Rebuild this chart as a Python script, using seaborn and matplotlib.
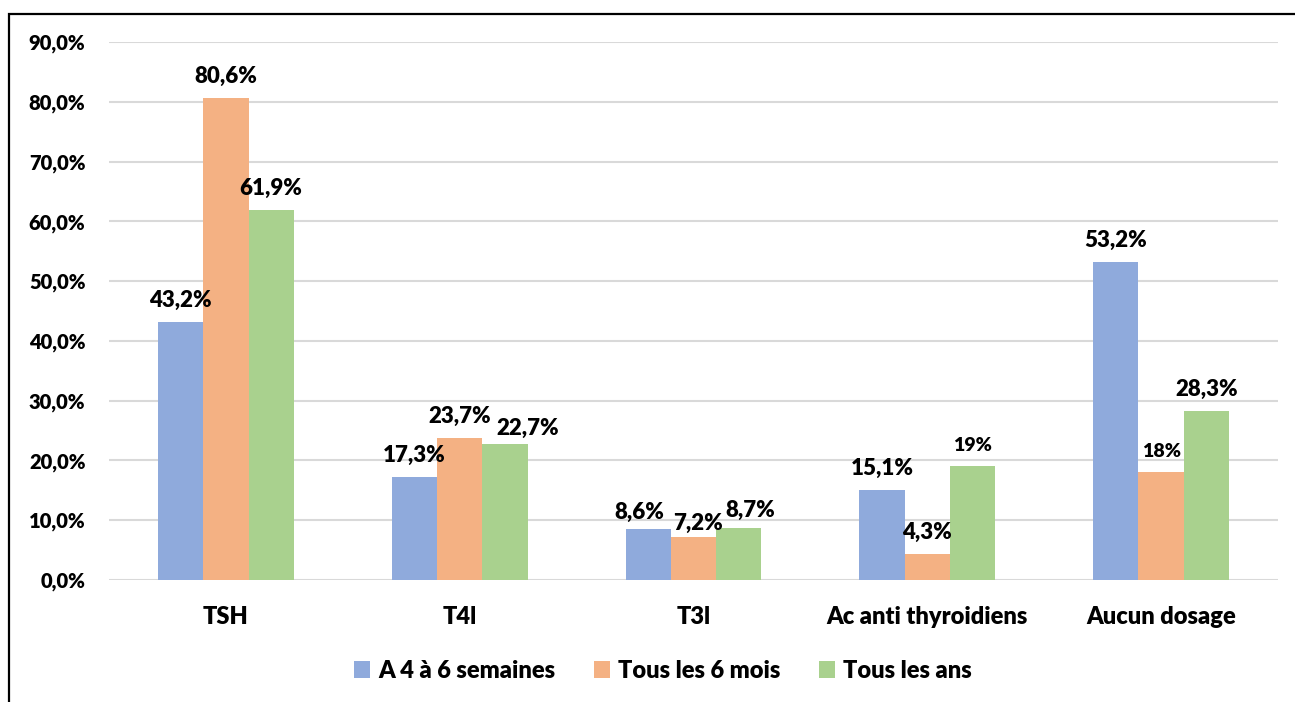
import matplotlib
matplotlib.use("Agg")
import matplotlib.pyplot as plt
from matplotlib.patches import Rectangle
import pandas as pd
import seaborn as sns

# data
categories = ["TSH", "T4l", "T3l", "Ac anti thyroidiens", "Aucun dosage"]
series = ["A 4 à 6 semaines", "Tous les 6 mois", "Tous les ans"]
v_4_6_sem = [43.2, 17.3, 8.6, 15.1, 53.2]
v_6_mois = [80.6, 23.7, 7.2, 4.3, 18.0]
v_ans = [61.9, 22.7, 8.7, 19.0, 28.3]
lbl_4_6_sem = ["43,2%", "17,3%", "8,6%", "15,1%", "53,2%"]
lbl_6_mois = ["80,6%", "23,7%", "7,2%", "4,3%", "18%"]
lbl_ans = ["61,9%", "22,7%", "8,7%", "19%", "28,3%"]
y_ticks = [0, 10, 20, 30, 40, 50, 60, 70, 80, 90]
y_tick_labels = ["0,0%", "10,0%", "20,0%", "30,0%", "40,0%",
                 "50,0%", "60,0%", "70,0%", "80,0%", "90,0%"]

colors = ["#8FAADC", "#F4B183", "#A9D18E"]

df = pd.DataFrame({
    "cat": categories * 3,
    "serie": [s for s in series for _ in categories],
    "val": v_4_6_sem + v_6_mois + v_ans,
})

plt.rcParams["font.family"] = ["Lato", "DejaVu Sans"]
plt.rcParams["font.weight"] = "heavy"
W = "heavy"

fig = plt.figure(figsize=(12.95, 7.02), dpi=100)
ax = fig.add_axes([109 / 1295, 1 - 580 / 702, (1278 - 109) / 1295, (580 - 42) / 702])

sns.barplot(data=df, x="cat", y="val", hue="serie", order=categories,
            hue_order=series, palette=colors, width=0.58, saturation=1,
            edgecolor="none", linewidth=0, ax=ax, zorder=3)

ax.set_ylim(0, 90)
ax.set_xlim(-0.5, 4.5)
ax.set_yticks(y_ticks)
ax.set_yticklabels(y_tick_labels, fontsize=14.5, fontweight=W)
ax.tick_params(axis="x", labelsize=17, length=0, pad=19)
ax.tick_params(axis="y", length=0, pad=17)
for lab in ax.get_xticklabels():
    lab.set_fontweight(W)
ax.set_xlabel("")
ax.set_ylabel("")
ax.grid(axis="y", color="#D9D9D9", linewidth=1.5, zorder=0)
ax.set_axisbelow(True)
for sp in ax.spines.values():
    sp.set_visible(False)

# data labels, offsets in pixels (dx, dy) and sizes
all_labels = [lbl_4_6_sem, lbl_6_mois, lbl_ans]
offsets = {
    (2, 1): (23, 9), (0, 2): (-9, 10), (1, 2): (4, 7), (2, 2): (12, 11),
}
small = {(2, 3), (1, 4)}
for s_idx, cont in enumerate(ax.containers):
    for c_idx, bar in enumerate(cont):
        dx, dy = offsets.get((s_idx, c_idx), (0, 15))
        size = 14 if (s_idx, c_idx) in small else 16
        ax.annotate(all_labels[s_idx][c_idx],
                    (bar.get_x() + bar.get_width() / 2, bar.get_height()),
                    xytext=(dx, dy), textcoords="offset pixels",
                    ha="center", va="baseline", fontsize=size,
                    fontweight=W, color="black")

handles, labels = ax.get_legend_handles_labels()
ax.legend(handles, labels, loc="center", bbox_to_anchor=(663 / 1295, 1 - 671 / 702),
          bbox_transform=fig.transFigure, ncol=3, frameon=False,
          prop={"size": 17, "weight": W}, handlelength=0.7,
          handleheight=0.7, handletextpad=0.35, columnspacing=1.6)

# chart frame (only top and left edges visible in the crop)
fig.add_artist(Rectangle((9 / 1295, -0.1), 1.2, 1 - 14 / 702 + 0.1,
                         transform=fig.transFigure, fill=False,
                         edgecolor="black", linewidth=1.6))

fig.savefig("out.png", dpi=100)
